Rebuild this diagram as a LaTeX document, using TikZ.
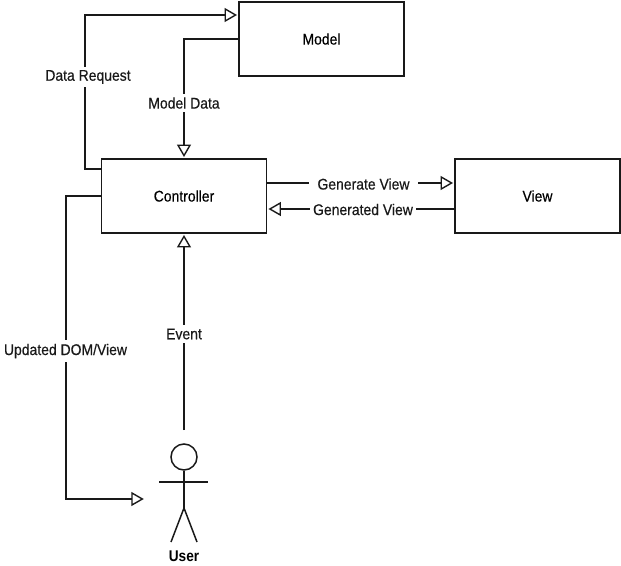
\documentclass[tikz,border=0pt]{standalone}
\usepackage{fontspec}
\setmainfont[FakeStretch=0.9,FakeBold=0.35]{Liberation Sans}
\newfontfamily\userfont[FakeStretch=0.88]{Liberation Sans Bold}
\usetikzlibrary{arrows.meta,calc}
\tikzset{
  x=1pt,y=-1pt,
  line/.style={line width=1.5pt,black!90,line join=miter},
  flow/.style={line,-{Triangle[open,length=12.5pt,width=14pt,line width=1.4pt]},shorten >=1.2pt},
  boxnode/.style={draw=black!90,line width=1.5pt,fill=white,minimum width=165pt,minimum height=74pt,inner sep=0pt,font=\fontsize{15.5}{18}\selectfont},
  lab/.style={fill=white,inner xsep=3.5pt,inner ysep=3.5pt,font=\fontsize{15.5}{18}\selectfont,text=black!90},
}
\begin{document}
\begin{tikzpicture}
\useasboundingbox (0,0) rectangle (621,565);
\node[boxnode] (model) at (321.5,39) {Model};
\node[boxnode] (ctrl) at (184,196) {Controller};
\node[boxnode] (view) at (537.5,196) {View};
% corner and free-end coordinates
\coordinate (drA) at (85,169);
\coordinate (drB) at (85,15);
\coordinate (mdA) at (184,39);
\coordinate (udA) at (66,196);
\coordinate (udB) at (66,499);
\coordinate (userIn) at (145,499);
\coordinate (evStart) at (184,430);
\coordinate (gvY) at (300,183);
\coordinate (gdY) at (300,209);
% connectors
\draw[flow] (ctrl.west |- drA) -- (drA) -- (drB) -- (model.west |- drB);
\draw[flow] (model.west) -- (mdA) -- (ctrl.north);
\draw[flow] (ctrl.east |- gvY) -- (view.west |- gvY);
\draw[flow] (view.west |- gdY) -- (ctrl.east |- gdY);
\draw[flow] (ctrl.west) -- (udA) -- (udB) -- (userIn);
\draw[flow] (evStart) -- (ctrl.south);
% labels
\node[lab] (l1) at (88,77) {Data Request};
\node[lab] (l2) at (184,103) {Model Data};
\node[lab,inner xsep=8pt] (l3) at (363.5,184) {Generate View};
\node[lab] (l4) at (363,209.5) {Generated View};
\node[lab] (l5) at (65.5,351) {Updated DOM/View};
\node[lab] (l6) at (184,334) {Event};
% user figure
\node[draw=black!90,line width=1.5pt,circle,minimum size=26pt,inner sep=0pt] (head) at (184,457) {};
\coordinate (hip) at (184,508);
\coordinate (armL) at (159,482);
\coordinate (armR) at (208,482);
\coordinate (footL) at (171,542);
\coordinate (footR) at (197,542);
\draw[line] (head.south) -- (hip);
\draw[line] (armL) -- (armR);
\draw[line] (footL) -- (hip) -- (footR);
\node[font=\fontsize{15.5}{18}\selectfont\userfont,text=black,inner sep=0pt] (user) at (184,556) {User};
\end{tikzpicture}
\end{document}
